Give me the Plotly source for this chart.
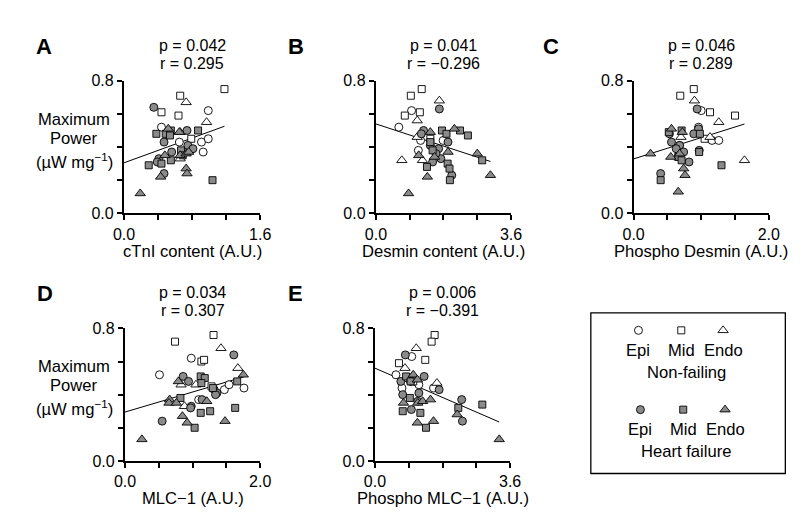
import numpy as np
import plotly.graph_objects as go

W, H = 800, 518
FONT = "Liberation Sans, Arial, Helvetica, sans-serif"

# ---------------- Panel A : cTnI content ----------------
A_nf_epi_x = [0.44, 0.99, 0.65, 0.91, 0.99, 0.93]
A_nf_epi_y = [0.52, 0.62, 0.43, 0.43, 0.45, 0.37]
A_nf_mid_x = [1.18, 0.66, 0.44, 0.64, 0.79]
A_nf_mid_y = [0.75, 0.71, 0.61, 0.59, 0.45]
A_nf_endo_x = [0.73, 0.97, 0.66, 0.66]
A_nf_endo_y = [0.67, 0.55, 0.49, 0.33]
A_hf_epi_x = [0.35, 0.47, 0.74, 0.56, 0.75, 0.81, 0.41, 0.39, 0.47]
A_hf_epi_y = [0.64, 0.43, 0.50, 0.37, 0.41, 0.39, 0.33, 0.31, 0.24]
A_hf_mid_x = [0.38, 0.49, 0.55, 0.87, 0.54, 0.67, 0.55, 0.44, 0.29, 1.04, 0.69]
A_hf_mid_y = [0.48, 0.48, 0.50, 0.50, 0.47, 0.38, 0.32, 0.30, 0.29, 0.20, 0.35]
A_hf_endo_x = [0.52, 0.65, 0.48, 0.66, 0.73, 0.76, 0.73, 0.74, 0.43, 0.19]
A_hf_endo_y = [0.51, 0.49, 0.35, 0.35, 0.36, 0.37, 0.27, 0.24, 0.22, 0.12]

# ---------------- Panel B : Desmin content ----------------
B_nf_epi_x = [0.95, 0.61, 1.19, 1.13, 1.79]
B_nf_epi_y = [0.62, 0.52, 0.44, 0.38, 0.44]
B_nf_mid_x = [1.22, 0.93, 0.77, 1.17, 1.45]
B_nf_mid_y = [0.75, 0.71, 0.59, 0.61, 0.45]
B_nf_endo_x = [1.69, 1.10, 0.69, 1.24, 1.10]
B_nf_endo_y = [0.68, 0.56, 0.32, 0.32, 0.46]
B_hf_epi_x = [1.69, 1.27, 1.21, 1.45, 1.92, 1.67, 1.51, 1.73, 2.02, 1.60]
B_hf_epi_y = [0.63, 0.50, 0.48, 0.41, 0.43, 0.39, 0.31, 0.33, 0.23, 0.36]
B_hf_mid_x = [1.76, 1.88, 2.24, 2.45, 1.51, 1.36, 1.91, 1.96, 1.97, 2.83, 1.45]
B_hf_mid_y = [0.50, 0.48, 0.50, 0.47, 0.38, 0.28, 0.30, 0.27, 0.20, 0.32, 0.43]
B_hf_endo_x = [1.45, 2.09, 1.92, 1.14, 1.56, 1.37, 2.70, 3.05, 0.87]
B_hf_endo_y = [0.49, 0.51, 0.37, 0.35, 0.34, 0.22, 0.36, 0.23, 0.12]

# ---------------- Panel C : Phospho Desmin ----------------
C_nf_epi_x = [1.00, 0.96, 1.16, 1.26, 0.68]
C_nf_epi_y = [0.62, 0.52, 0.44, 0.44, 0.41]
C_nf_mid_x = [0.89, 0.69, 1.13, 1.50, 1.05]
C_nf_mid_y = [0.75, 0.71, 0.61, 0.59, 0.45]
C_nf_endo_x = [0.90, 1.26, 1.64, 1.13, 0.70]
C_nf_endo_y = [0.68, 0.55, 0.32, 0.46, 0.46]
C_hf_epi_x = [0.94, 0.96, 0.89, 0.56, 0.53, 0.68, 0.74, 0.82, 0.63, 0.40, 0.97]
C_hf_epi_y = [0.63, 0.51, 0.48, 0.43, 0.48, 0.41, 0.37, 0.31, 0.39, 0.24, 0.38]
C_hf_mid_x = [0.71, 0.98, 0.52, 0.66, 0.71, 1.30, 0.40, 0.97]
C_hf_mid_y = [0.50, 0.48, 0.49, 0.34, 0.32, 0.29, 0.20, 0.37]
C_hf_endo_x = [0.56, 0.72, 0.25, 0.55, 0.68, 0.74, 0.76, 0.66]
C_hf_endo_y = [0.51, 0.49, 0.36, 0.34, 0.36, 0.27, 0.23, 0.13]

# ---------------- Panel D : MLC-1 ----------------
D_nf_epi_x = [0.51, 0.98, 1.09, 1.47, 1.54, 1.76]
D_nf_epi_y = [0.52, 0.62, 0.37, 0.43, 0.46, 0.44]
D_nf_mid_x = [1.31, 0.74, 1.13, 1.17, 1.28]
D_nf_mid_y = [0.76, 0.72, 0.60, 0.61, 0.45]
D_nf_endo_x = [1.42, 1.67, 1.05, 0.83, 0.88]
D_nf_endo_y = [0.68, 0.56, 0.46, 0.46, 0.33]
D_hf_epi_x = [1.61, 0.86, 0.94, 1.32, 1.36, 1.34, 0.98, 0.97, 1.14, 0.55]
D_hf_epi_y = [0.64, 0.51, 0.48, 0.43, 0.41, 0.40, 0.33, 0.32, 0.37, 0.24]
D_hf_mid_x = [1.12, 1.18, 1.13, 1.30, 0.82, 1.26, 1.12, 1.63, 1.03, 1.66]
D_hf_mid_y = [0.51, 0.50, 0.47, 0.44, 0.38, 0.30, 0.29, 0.32, 0.20, 0.48]
D_hf_endo_x = [1.75, 0.79, 0.66, 0.65, 0.76, 1.21, 0.85, 0.92, 1.48, 0.25]
D_hf_endo_y = [0.52, 0.48, 0.37, 0.35, 0.35, 0.36, 0.27, 0.23, 0.24, 0.13]

# ---------------- Panel E : Phospho MLC-1 ----------------
E_nf_epi_x = [0.98, 0.56, 0.72, 1.56, 1.17]
E_nf_epi_y = [0.63, 0.52, 0.44, 0.44, 0.46]
E_nf_mid_x = [1.59, 1.51, 0.64, 1.34, 1.02]
E_nf_mid_y = [0.76, 0.72, 0.59, 0.61, 0.48]
E_nf_endo_x = [1.10, 0.80, 1.65]
E_nf_endo_y = [0.68, 0.56, 0.47]
E_hf_epi_x = [0.81, 1.31, 0.69, 0.95, 1.17, 0.74, 0.97, 1.71, 2.31, 2.33, 1.14]
E_hf_epi_y = [0.64, 0.51, 0.48, 0.48, 0.41, 0.40, 0.31, 0.43, 0.37, 0.24, 0.36]
E_hf_mid_x = [0.83, 0.95, 0.93, 0.74, 1.21, 1.36, 2.22, 2.86]
E_hf_mid_y = [0.51, 0.48, 0.38, 0.30, 0.29, 0.20, 0.32, 0.34]
E_hf_endo_x = [1.02, 1.13, 0.76, 1.14, 1.27, 1.48, 1.13, 1.56, 2.19, 3.31]
E_hf_endo_y = [0.52, 0.49, 0.35, 0.35, 0.36, 0.37, 0.23, 0.24, 0.28, 0.13]

# Text / axis labels
letters = ["A", "B", "C", "D", "E"]
x_titles = ["cTnI content (A.U.)", "Desmin content (A.U.)", "Phospho Desmin (A.U.)",
            "MLC\u22121 (A.U.)", "Phospho MLC\u22121 (A.U.)"]
p_texts = ["p = 0.042", "p = 0.041", "p = 0.046", "p = 0.034", "p = 0.006"]
r_texts = ["r = 0.295", "r = \u22120.296", "r = 0.289", "r = 0.307", "r = \u22120.391"]
x_max = [1.6, 3.6, 2.0, 2.0, 3.6]
x_max_labels = ["1.6", "3.6", "2.0", "2.0", "3.6"]
y_max = 0.8
y_minor_ticks = [0.2, 0.4, 0.6]
group_names = ["Epi", "Mid", "Endo"]
condition_names = ["Non-failing", "Heart failure"]

panel_groups = [
    [(A_nf_epi_x, A_nf_epi_y), (A_nf_mid_x, A_nf_mid_y), (A_nf_endo_x, A_nf_endo_y),
     (A_hf_epi_x, A_hf_epi_y), (A_hf_mid_x, A_hf_mid_y), (A_hf_endo_x, A_hf_endo_y)],
    [(B_nf_epi_x, B_nf_epi_y), (B_nf_mid_x, B_nf_mid_y), (B_nf_endo_x, B_nf_endo_y),
     (B_hf_epi_x, B_hf_epi_y), (B_hf_mid_x, B_hf_mid_y), (B_hf_endo_x, B_hf_endo_y)],
    [(C_nf_epi_x, C_nf_epi_y), (C_nf_mid_x, C_nf_mid_y), (C_nf_endo_x, C_nf_endo_y),
     (C_hf_epi_x, C_hf_epi_y), (C_hf_mid_x, C_hf_mid_y), (C_hf_endo_x, C_hf_endo_y)],
    [(D_nf_epi_x, D_nf_epi_y), (D_nf_mid_x, D_nf_mid_y), (D_nf_endo_x, D_nf_endo_y),
     (D_hf_epi_x, D_hf_epi_y), (D_hf_mid_x, D_hf_mid_y), (D_hf_endo_x, D_hf_endo_y)],
    [(E_nf_epi_x, E_nf_epi_y), (E_nf_mid_x, E_nf_mid_y), (E_nf_endo_x, E_nf_endo_y),
     (E_hf_epi_x, E_hf_epi_y), (E_hf_mid_x, E_hf_mid_y), (E_hf_endo_x, E_hf_endo_y)],
]

# ---------------- styles / layout geometry (pixels) ----------------
SYMBOLS = ["circle", "square", "triangle-up"]
SIZES = [8, 7, 9]
FILLS = ["white", "#8a8a8a"]
TXT = 16.6
# plot-area boxes: (left, right, top, bottom) in px
boxes = [(108, 248, 67, 204), (367, 506, 67, 204), (632, 771, 67, 204),
         (109, 248, 323, 460), (366, 505, 323, 460)]
letter_pos = [(26, 32), (285, 32), (547, 32), (27, 287), (284, 287)]


def px(x):
    return x / W


def py(y):
    return 1 - y / H


fig = go.Figure()
annotations = []

for i, groups in enumerate(panel_groups):
    k = i + 1
    xa = "x" if k == 1 else f"x{k}"
    ya = "y" if k == 1 else f"y{k}"
    allx = np.concatenate([np.array(g[0]) for g in groups])
    ally = np.concatenate([np.array(g[1]) for g in groups])
    slope, icpt = np.polyfit(allx, ally, 1)
    lx = np.array([0.0, allx.max()])
    fig.add_trace(go.Scatter(x=lx, y=icpt + slope * lx, mode="lines",
                             line=dict(color="black", width=1), xaxis=xa, yaxis=ya,
                             showlegend=False, hoverinfo="skip", cliponaxis=False))
    for gi, (gx, gy) in enumerate(groups):
        cond = gi // 3
        kind = gi % 3
        fig.add_trace(go.Scatter(
            x=gx, y=gy, mode="markers", xaxis=xa, yaxis=ya, showlegend=False,
            cliponaxis=False,
            marker=dict(symbol=SYMBOLS[kind], size=SIZES[kind], color=FILLS[cond],
                        line=dict(color="black", width=0.9))))
    l, r, t, b = boxes[i]
    xm = x_max[i]
    x_minor = [xm * j / 4 for j in (1, 2, 3)]
    ax_common = dict(showline=True, linewidth=2.2, linecolor="black", ticks="outside",
                     ticklen=5, tickwidth=2, tickcolor="black", showgrid=False,
                     zeroline=False, tickfont=dict(family=FONT, size=16, color="black"),
                     fixedrange=True)
    minor_common = dict(ticks="outside", ticklen=5, tickwidth=2, tickcolor="black",
                        showgrid=False)
    fig.layout[f"xaxis{k if k > 1 else ''}"] = dict(
        domain=[px(l), px(r)], range=[0, xm], anchor=ya, tickvals=[0, xm],
        ticktext=["0.0", x_max_labels[i]], minor=dict(tickvals=x_minor, **minor_common),
        **ax_common)
    fig.layout[f"yaxis{k if k > 1 else ''}"] = dict(
        domain=[py(b), py(t)], range=[0, y_max], anchor=xa,
        tickvals=[0, y_max], ticktext=["0.0", "0.8"],
        minor=dict(tickvals=y_minor_ticks, **minor_common), **ax_common)
    cx = (l + r) / 2
    pr_font = dict(family=FONT, size=16, color="black")
    annotations.append(dict(x=px(cx), y=py(t - 37), text=p_texts[i], font=pr_font))
    annotations.append(dict(x=px(cx), y=py(t - 18), text=r_texts[i], font=pr_font))
    annotations.append(dict(x=px(cx), y=py(b + 39), text=x_titles[i]))
    lx0, ly0 = letter_pos[i]
    annotations.append(dict(x=px(lx0), y=py(ly0), text=f"<b>{letters[i]}</b>",
                            font=dict(family=FONT, size=22, color="black")))

# y-axis titles (panels A and D)
for base in (107, 362):
    annotations.append(dict(x=px(57), y=py(base), text="Maximum"))
    annotations.append(dict(x=px(57), y=py(base + 20), text="Power"))
    annotations.append(dict(x=px(57), y=py(base + 43), text="(\u00b5W mg<sup>\u22121</sup>)"))

# ---------------- legend box ----------------
leg_cols = [637, 681, 724]
leg_rows = [(325, 346, 369), (407, 428, 450)]
fig.add_trace(go.Scatter(x=[0, W], y=[0, H], mode="markers", marker=dict(opacity=0),
                         xaxis="x6", yaxis="y6", showlegend=False, hoverinfo="skip"))
for cond, (my, ty, cy) in enumerate(leg_rows):
    for kind in range(3):
        fig.add_trace(go.Scatter(
            x=[leg_cols[kind] + 2 * cond], y=[my], mode="markers", xaxis="x6", yaxis="y6",
            showlegend=False, hoverinfo="skip", cliponaxis=False,
            marker=dict(symbol=SYMBOLS[kind], size=SIZES[kind], color=FILLS[cond],
                        line=dict(color="black", width=0.9))))
        annotations.append(dict(x=px(leg_cols[kind] + 2 * cond), y=py(ty), text=group_names[kind]))
    annotations.append(dict(x=px(686), y=py(cy), text=condition_names[cond]))

fig.layout["xaxis6"] = dict(domain=[0, 1], range=[0, W], visible=False, anchor="y6", fixedrange=True)
fig.layout["yaxis6"] = dict(domain=[0, 1], range=[H, 0], visible=False, anchor="x6", fixedrange=True)

for a in annotations:
    a.setdefault("font", dict(family=FONT, size=TXT, color="black"))
    a.update(xref="paper", yref="paper", showarrow=False, xanchor="center", yanchor="middle")

fig.update_layout(
    width=W, height=H, margin=dict(l=0, r=0, t=0, b=0),
    paper_bgcolor="white", plot_bgcolor="rgba(0,0,0,0)",
    annotations=annotations, showlegend=False,
    shapes=[dict(type="rect", xref="paper", yref="paper", x0=px(588), x1=px(788),
                 y0=py(473), y1=py(307), line=dict(color="black", width=1.3))],
    font=dict(family=FONT, size=16, color="black"),
)

fig.write_html("out.html")
